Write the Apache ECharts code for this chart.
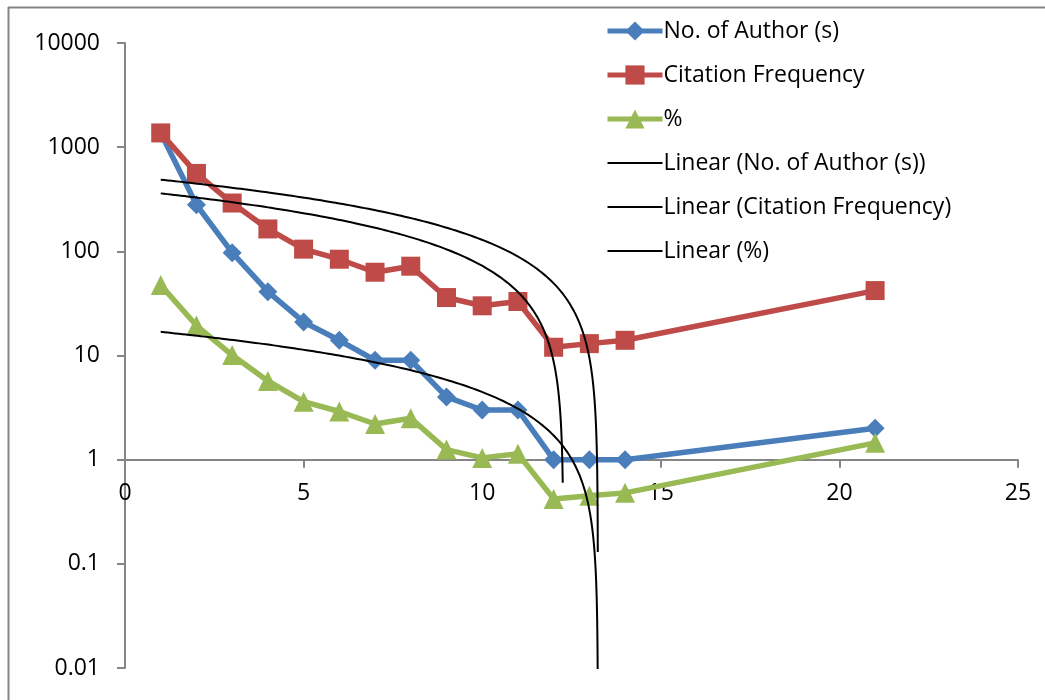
<!DOCTYPE html>
<html>
<head>
<meta charset="utf-8">
<script src="https://cdn.jsdelivr.net/npm/echarts@6/dist/echarts.min.js"></script>
<style>
html,body{margin:0;padding:0;background:#fff;}
#chart{width:1045px;height:700px;}
</style>
</head>
<body>
<div id="chart"></div>
<script>
// ---- data ----
var xValues = [1,2,3,4,5,6,7,8,9,10,11,12,13,14,21];
var authors = [1370,280,97,41,21,14,9,9,4,3,3,1,1,1,2];
var citations = [1370,560,291,164,105,84,63,72,36,30,33,12,13,14,42];
var percent = [47.4,19.4,10.1,5.7,3.6,2.9,2.2,2.5,1.25,1.04,1.14,0.42,0.45,0.48,1.45];
var seriesNames = ['No. of Author (s)','Citation Frequency','%'];
var trendNames = ['Linear (No. of Author (s))','Linear (Citation Frequency)','Linear (%)'];
// value at which each drawn trendline stops (Excel stops near the root)
var trendEndValues = [0.6, 0.13, 0.002];
var yTickLabels = ['0.01','0.1','1','10','100','1000','10000'];
var xTickLabels = ['0','5','10','15','20','25'];

function pairs(ys){ return xValues.map(function(x,i){ return [x, ys[i]]; }); }

// least-squares linear trendline (as Excel "Linear" trendline), drawn on log axis
function trend(ys, endVal){
  var n = xValues.length, sx=0, sy=0, sxx=0, sxy=0;
  for (var i=0;i<n;i++){ var x=xValues[i], y=ys[i]; sx+=x; sy+=y; sxx+=x*x; sxy+=x*y; }
  var b = (n*sxy - sx*sy)/(n*sxx - sx*sx);
  var a = (sy - b*sx)/n;
  var x0 = xValues[0];
  var xEnd = (endVal - a)/b;
  var pts = [];
  var N = 120;
  for (var k=0;k<=N;k++){ pts.push(x0 + (xEnd-x0)*k/N); }
  var y1 = a + b*x0;
  for (var k=1;k<N;k++){
    var yv = y1*Math.pow(endVal/y1, k/N);
    pts.push((yv - a)/b);
  }
  pts.sort(function(p,q){return p-q;});
  return pts.map(function(x){ return [x, a + b*x]; }).filter(function(p){ return p[1] > 0; });
}

var colors = ['#4A7EBB','#BE4B48','#98B954'];
var symbols = ['diamond','rect','triangle'];
var symSizes = [19,19,20];
var dataSets = [authors, citations, percent];

var series = [];
for (var s=0;s<3;s++){
  series.push({
    name: seriesNames[s], type:'line', data: pairs(dataSets[s]),
    symbol: symbols[s], symbolSize: symSizes[s], showAllSymbol:true,
    lineStyle:{color:colors[s], width:5.5},
    itemStyle:{color:colors[s]},
    z: 3, animation:false
  });
}
for (var s=0;s<3;s++){
  series.push({
    name: trendNames[s], type:'line', data: trend(dataSets[s], trendEndValues[s]),
    symbol:'none', showSymbol:false, clip:true,
    lineStyle:{color:'#000', width:2},
    itemStyle:{color:'#000'},
    z: 4, animation:false
  });
}

var FONT = 'Open Sans';
var lineIcon = 'path://M0,0 L55,0 L55,2.2 L0,2.2 Z';
var legendData = seriesNames.map(function(n){ return {name:n}; })
  .concat(trendNames.map(function(n){ return {name:n, icon:lineIcon}; }));

var chart = echarts.init(document.getElementById('chart'), null, {renderer:'canvas'});
var gridTop = 43, gridBottom = 32;
var plotH = 700 - gridTop - gridBottom;
var decades = Math.log10(10000) - Math.log10(0.01);
var xAxisOffset = -plotH * (Math.log10(1) - Math.log10(0.01)) / decades;

chart.setOption({
  animation:false,
  backgroundColor:'#fff',
  textStyle:{fontFamily:FONT},
  graphic:[
    {type:'line', shape:{x1:8,y1:7.5,x2:1045,y2:7.5}, style:{stroke:'#868686', lineWidth:2}, silent:true},
    {type:'line', shape:{x1:8.5,y1:7,x2:8.5,y2:700}, style:{stroke:'#868686', lineWidth:2}, silent:true}
  ],
  grid:{left:125, right:27, top:gridTop, bottom:gridBottom, containLabel:false},
  legend:{
    orient:'vertical', left:600, top:13,
    itemWidth:55, itemHeight:24, itemGap:18, symbolKeepAspect:true,
    lineStyle:{width:5},
    data: legendData,
    textStyle:{fontFamily:FONT, fontSize:23, color:'#000', lineHeight:26, padding:[0,0,0,-4]},
    selectedMode:false
  },
  xAxis:{
    type:'value', min:0, max:25, interval:5, position:'bottom', offset:xAxisOffset,
    axisLine:{show:true, lineStyle:{color:'#868686', width:2}},
    axisTick:{show:true, inside:false, length:8, lineStyle:{color:'#868686', width:2}},
    axisLabel:{margin:22, fontFamily:FONT, fontSize:23, color:'#000',
      formatter:function(v){ var i = xTickLabels.indexOf(String(v)); return i>=0 ? xTickLabels[i] : ''; }},
    splitLine:{show:false}
  },
  yAxis:{
    type:'log', logBase:10, min:0.01, max:10000, splitNumber:6,
    axisLine:{show:true, lineStyle:{color:'#868686', width:2}},
    axisTick:{show:true, inside:false, length:8, lineStyle:{color:'#868686', width:2}},
    axisLabel:{margin:25, fontFamily:FONT, fontSize:23, color:'#000',
      formatter:function(v){
        var e = Math.round(Math.log10(v));
        return yTickLabels[e+2] || '';
      }},
    splitLine:{show:false}
  },
  series: series
});
</script>
</body>
</html>
